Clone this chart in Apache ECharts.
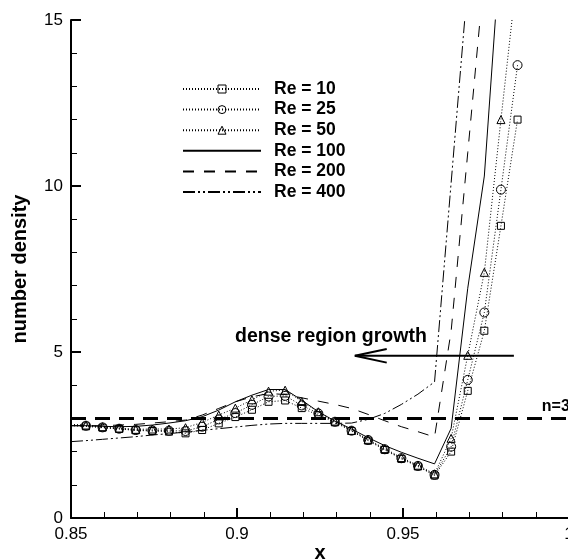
<!DOCTYPE html>
<html>
<head>
<meta charset="utf-8">
<script src="https://cdn.jsdelivr.net/npm/echarts@6/dist/echarts.min.js"></script>
<style>
  html, body { margin: 0; padding: 0; background: #fff; overflow: hidden; }
  #chart { width: 568px; height: 560px; }
</style>
</head>
<body>
<div id="chart"></div>
<script>
// Sample positions along x (first entry is the boundary at 0.85, drawn without a marker)
const xPos = [0.85, 0.8545, 0.8595, 0.8645, 0.8695, 0.8745, 0.8795, 0.8845, 0.8895, 0.8945,
              0.8995, 0.9045, 0.9095, 0.9145, 0.9195, 0.9245, 0.9295, 0.9345, 0.9395, 0.9445,
              0.9495, 0.9545, 0.9595, 0.9645, 0.9695, 0.9745, 0.9795, 0.9845];

// Number density for each Reynolds number (null = beyond the plotted range)
const re10  = [2.78, 2.76, 2.72, 2.68, 2.64, 2.62, 2.60, 2.55, 2.65, 2.85, 3.04, 3.26, 3.50, 3.54,
               3.31, 3.10, 2.88, 2.62, 2.33, 2.05, 1.78, 1.55, 1.28, 2.00, 3.83, 5.64, 8.80, 12.0];
const re25  = [2.80, 2.78, 2.73, 2.69, 2.65, 2.64, 2.63, 2.62, 2.75, 2.97, 3.16, 3.41, 3.66, 3.68,
               3.39, 3.15, 2.90, 2.63, 2.35, 2.07, 1.80, 1.57, 1.30, 2.15, 4.16, 6.19, 9.89, 13.64];
const re50  = [2.82, 2.80, 2.75, 2.71, 2.67, 2.68, 2.68, 2.72, 2.88, 3.10, 3.31, 3.56, 3.82, 3.85,
               3.51, 3.20, 2.92, 2.64, 2.37, 2.09, 1.82, 1.59, 1.33, 2.40, 4.90, 7.40, 12.0, 16.5];
const re100 = [2.78, 2.78, 2.76, 2.75, 2.76, 2.80, 2.86, 2.93, 3.05, 3.25, 3.50, 3.70, 3.87, 3.87,
               3.55, 3.20, 2.92, 2.68, 2.42, 2.18, 1.98, 1.80, 1.63, 2.70, 6.92, 10.30, 17.4, null];
const re200 = [2.78, 2.78, 2.78, 2.80, 2.82, 2.86, 2.90, 2.95, 3.10, 3.30, 3.50, 3.65, 3.75, 3.72,
               3.62, 3.52, 3.42, 3.30, 3.12, 2.93, 2.75, 2.60, 2.44, 5.63, 11.0, 16.4, null, null];
const re400 = [2.30, 2.33, 2.37, 2.41, 2.45, 2.50, 2.54, 2.59, 2.64, 2.69, 2.74, 2.79, 2.83, 2.85,
               2.85, 2.85, 2.85, 2.86, 2.97, 3.15, 3.42, 3.73, 4.10, 10.1, 16.1, null, null, null];

const seriesNames = ['Re = 10', 'Re = 25', 'Re = 50', 'Re = 100', 'Re = 200', 'Re = 400'];

// Reference level n = 3 and the "dense region growth" arrow
const refLevel = 3;
const refLabel = 'n=3';
const arrowText = 'dense region growth';
const arrowShaft = [[0.9834, 4.89], [0.9355, 4.89]];
const arrowHead = [[0.9451, 5.09], [0.9355, 4.89], [0.9451, 4.68]];

const FONT = '"Liberation Sans", Arial, Helvetica, sans-serif';

function toPoints(ys) {
  const out = [];
  xPos.forEach((x, i) => {
    if (ys[i] == null) return;
    out.push(i === 0 ? { value: [x, ys[i]], symbol: 'none' } : [x, ys[i]]);
  });
  return out;
}

function markedSeries(name, ys, symbol, size) {
  return {
    name, type: 'line', data: toPoints(ys),
    symbol, symbolSize: size, showSymbol: true,
    itemStyle: { color: 'rgba(0,0,0,0)', borderColor: '#000', borderWidth: 1 },
    lineStyle: { color: '#000', width: 1, type: [1, 2] },
    emphasis: { disabled: true }, animation: false, z: 3
  };
}

function plainSeries(name, ys, dash) {
  return {
    name, type: 'line', data: toPoints(ys),
    symbol: 'none', showSymbol: false,
    itemStyle: { color: 'rgba(0,0,0,0)', borderWidth: 0 },
    lineStyle: { color: '#000', width: 1, type: dash },
    emphasis: { disabled: true }, animation: false, z: 2
  };
}

const chart = echarts.init(document.getElementById('chart'), null, { renderer: 'canvas' });

const option = {
  backgroundColor: '#fff',
  animation: false,
  textStyle: { fontFamily: FONT },
  grid: { left: 71, top: 20, width: 498, height: 498, containLabel: false, outerBoundsMode: 'none' },
  xAxis: {
    type: 'value', min: 0.85, max: 1.0, interval: 0.05,
    name: 'x', nameLocation: 'middle', nameGap: 25, nameMoveOverlap: false,
    nameTextStyle: { fontFamily: FONT, fontWeight: 'bold', fontSize: 20, color: '#000' },
    axisLine: { show: true, onZero: false, lineStyle: { color: '#000', width: 2 } },
    axisTick: { show: true, inside: true, length: 10, lineStyle: { color: '#000', width: 2 } },
    minorTick: { show: true, splitNumber: 5, length: 6, lineStyle: { color: '#000', width: 1 } },
    axisLabel: { color: '#000', fontSize: 17, fontFamily: FONT, margin: 8, showMinLabel: true, showMaxLabel: true },
    splitLine: { show: false }
  },
  yAxis: {
    type: 'value', min: 0, max: 15, interval: 5,
    name: 'number density', nameLocation: 'middle', nameGap: 41, nameRotate: 90, nameMoveOverlap: false,
    nameTextStyle: { fontFamily: FONT, fontWeight: 'bold', fontSize: 20, color: '#000' },
    axisLine: { show: true, onZero: false, lineStyle: { color: '#000', width: 2 } },
    axisTick: { show: true, inside: true, length: 10, lineStyle: { color: '#000', width: 2 } },
    minorTick: { show: true, splitNumber: 5, length: 6, lineStyle: { color: '#000', width: 1 } },
    axisLabel: { color: '#000', fontSize: 17, fontFamily: FONT, margin: 8 },
    splitLine: { show: false }
  },
  legend: {
    orient: 'vertical', left: 182, top: 80, padding: 0,
    itemWidth: 78, itemHeight: 10, itemGap: 2.6,
    itemStyle: { borderWidth: 1 },
    textStyle: { fontFamily: FONT, fontWeight: 'bold', fontSize: 17.5, color: '#000',
                 padding: [0, 0, 0, 8] },
    selectedMode: false,
    data: [
      { name: seriesNames[0] },
      { name: seriesNames[1] },
      { name: seriesNames[2] },
      { name: seriesNames[3], itemStyle: { opacity: 0 } },
      { name: seriesNames[4], itemStyle: { opacity: 0 } },
      { name: seriesNames[5], itemStyle: { opacity: 0 } }
    ]
  },
  series: [
    plainSeries(seriesNames[3], re100, 'solid'),
    plainSeries(seriesNames[4], re200, [11, 10]),
    plainSeries(seriesNames[5], re400, [12, 3, 2, 3, 2, 3]),
    markedSeries(seriesNames[0], re10, 'rect', 7),
    markedSeries(seriesNames[1], re25, 'circle', 9),
    markedSeries(seriesNames[2], re50, 'triangle', 8),
    {
      name: 'level', type: 'line', data: [[0.85, refLevel], [1.0, refLevel]],
      symbol: 'none', lineStyle: { color: '#000', width: 3, type: [15, 9] },
      emphasis: { disabled: true }, z: 1, silent: true
    },
    {
      name: 'arrowShaft', type: 'line', data: arrowShaft,
      symbol: 'none', lineStyle: { color: '#000', width: 2 },
      emphasis: { disabled: true }, z: 4, silent: true
    },
    {
      name: 'arrowHead', type: 'line', data: arrowHead,
      symbol: 'none', lineStyle: { color: '#000', width: 2 },
      emphasis: { disabled: true }, z: 4, silent: true
    }
  ]
};

chart.setOption(option);

// Text annotations placed through the grid's coordinate system
const textPos = chart.convertToPixel({ gridIndex: 0 }, [0.9283, 5.46]);
const levelPos = chart.convertToPixel({ gridIndex: 0 }, [0.9918, refLevel]);
chart.setOption({
  graphic: [
    {
      type: 'text', x: textPos[0], y: textPos[1], z: 10,
      style: { text: arrowText, font: 'bold 19.5px ' + FONT, fill: '#000',
               textAlign: 'center', textVerticalAlign: 'middle' }
    },
    {
      type: 'text', x: levelPos[0], y: levelPos[1] - 4, z: 10,
      style: { text: refLabel, font: 'bold 16px ' + FONT, fill: '#000',
               textAlign: 'left', textVerticalAlign: 'bottom' }
    }
  ]
});
</script>
</body>
</html>
